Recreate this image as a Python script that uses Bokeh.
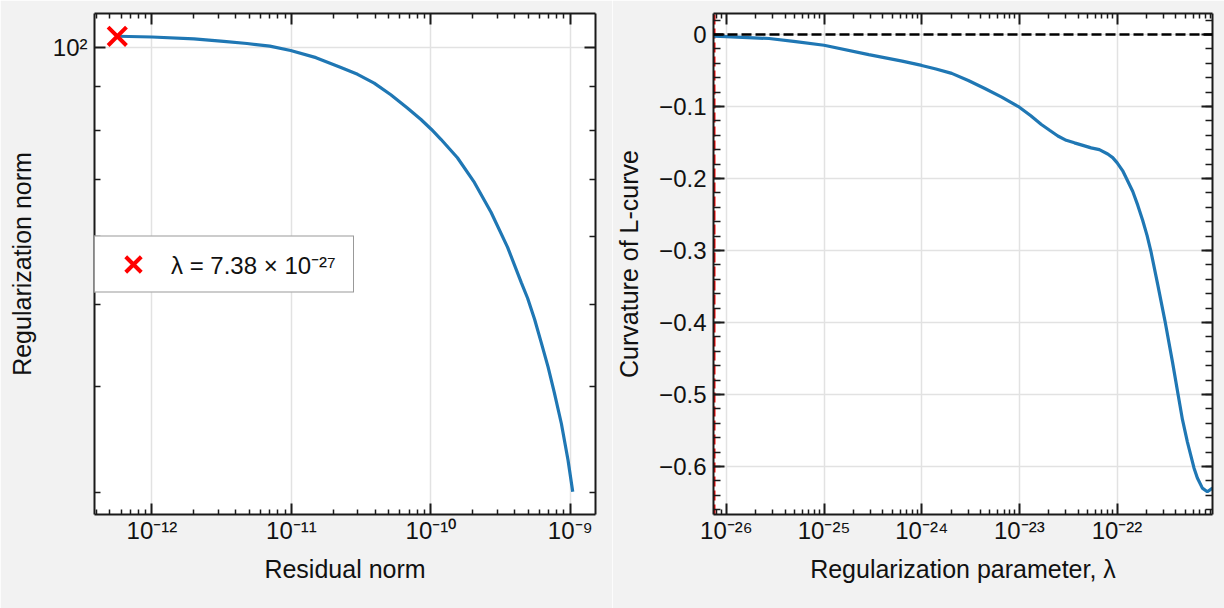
import math
from bokeh.plotting import figure
from bokeh.models import (FixedTicker, CustomJSTickFormatter, LogAxis, LinearAxis,
                          Range1d, Legend, LegendItem, Span)
from bokeh.layouts import row
from bokeh.embed import file_html
from bokeh.resources import INLINE

# ---------------- data ----------------
residual_norm = [5.64e-13, 1.0e-12, 2.0e-12, 3.27e-12, 4.8e-12, 7.0e-12, 9.87e-12,
                 1.5e-11, 2.24e-11, 2.98e-11, 3.92e-11, 5.16e-11, 6.78e-11, 8.49e-11,
                 1.01e-10, 1.18e-10, 1.55e-10, 2.05e-10, 2.70e-10, 3.55e-10, 4.45e-10,
                 4.94e-10, 5.54e-10, 6.20e-10, 6.92e-10, 7.66e-10, 8.62e-10, 9.62e-10,
                 1.04e-9]
regularization_norm = [103.2, 103.0, 102.5, 101.8, 101.2, 100.5, 99.3,
                       97.4, 94.9, 93.1, 90.9, 88.1, 85.0, 82.4,
                       80.2, 78.1, 74.3, 69.5, 64.1, 58.3, 53.0,
                       50.8, 48.0, 45.0, 42.2, 39.4, 36.2, 32.8,
                       30.1]

lam_opt = 7.38e-27
lam_opt_text = "λ = 7.38 × 10⁻²⁷"

lam = [7.38e-27, 1e-26, 2.74e-26, 5.13e-26, 1e-25, 2.87e-25, 6.31e-25, 1e-24,
       1.4e-24, 2.03e-24, 3.0e-24, 4.43e-24, 6.6e-24, 1e-23, 1.3e-23, 1.68e-23,
       2.04e-23, 2.48e-23, 3.02e-23, 3.66e-23, 4.47e-23, 5.43e-23, 6.59e-23,
       8.03e-23, 9.03e-23, 1e-22, 1.14e-22, 1.25e-22, 1.45e-22, 1.63e-22,
       1.83e-22, 2.03e-22, 2.23e-22, 2.60e-22, 3.10e-22, 3.70e-22, 4.22e-22,
       4.68e-22, 5.26e-22, 6.14e-22, 6.65e-22, 7.48e-22, 8.41e-22, 9.5e-22]
curvature = [-0.0025, -0.003, -0.0056, -0.010, -0.015, -0.028, -0.037, -0.043,
             -0.048, -0.054, -0.064, -0.075, -0.087, -0.101, -0.1125, -0.125,
             -0.133, -0.141, -0.147, -0.1505, -0.154, -0.1575, -0.160,
             -0.166, -0.171, -0.178, -0.189, -0.200, -0.218, -0.237,
             -0.258, -0.279, -0.302, -0.346, -0.398, -0.455, -0.500,
             -0.535, -0.566, -0.602, -0.616, -0.630, -0.635, -0.630]

x1_major = [1e-12, 1e-11, 1e-10, 1e-9]
y1_major = [100]
y1_minor = [30, 40, 50, 60, 70, 80, 90]
x2_major = [1e-26, 1e-25, 1e-24, 1e-23, 1e-22]
y2_major = [0.0, -0.1, -0.2, -0.3, -0.4, -0.5, -0.6]

x1_label = "Residual norm"
y1_label = "Regularization norm"
x2_label = "Regularization parameter, λ"
y2_label = "Curvature of L-curve"

# ---------------- style ----------------
FONT = "Liberation Sans"
FS = "24px"
FS_LABEL = "25px"
BG = "#f2f2f2"
BLUE = "#1f77b4"
INK = "#1a1a1a"
GRID = "#e2e2e2"


def log_minors(lo, hi):
    out = []
    e0 = math.floor(math.log10(lo)) - 1
    e1 = math.ceil(math.log10(hi)) + 1
    for e in range(e0, e1):
        for k in range(2, 10):
            v = k * 10.0 ** e
            if lo <= v <= hi:
                out.append(v)
    return out


def log_range(vals, frac=0.05):
    lo, hi = math.log10(min(vals)), math.log10(max(vals))
    m = (hi - lo) * frac
    return 10 ** (lo - m), 10 ** (hi + m)


SUP_JS = """
const sup = {"-": "\u207b", "0": "\u2070", "1": "\u00b9", "2": "\u00b2", "3": "\u00b3",
             "4": "\u2074", "5": "\u2075", "6": "\u2076", "7": "\u2077", "8": "\u2078", "9": "\u2079"};
const e = Math.round(Math.log10(tick));
let s = "";
for (const c of String(e)) { s += sup[c]; }
return "10" + s;
"""
MINUS_JS = """
if (Math.abs(tick) < 1e-9) { return "0"; }
const a = Math.abs(tick).toFixed(1);
return (tick < 0 ? "\u2212" : "") + a;
"""
BLANK_JS = "return '';"


def style_axis(ax, labels=True):
    ax.axis_line_width = 2
    ax.axis_line_color = INK
    ax.major_tick_in = 11
    ax.major_tick_out = 0
    ax.minor_tick_in = 5
    ax.minor_tick_out = 0
    ax.major_tick_line_width = 2
    ax.minor_tick_line_width = 1.5
    ax.major_tick_line_color = INK
    ax.minor_tick_line_color = INK
    ax.major_label_text_font = FONT
    ax.major_label_text_color = "#111111"
    ax.axis_label_text_font = FONT
    ax.axis_label_text_font_size = FS_LABEL
    ax.axis_label_text_font_style = "normal"
    ax.axis_label_text_color = "#111111"
    if labels:
        ax.major_label_text_font_size = FS
    else:
        ax.major_label_text_font_size = "0px"
        ax.formatter = CustomJSTickFormatter(code=BLANK_JS)


def make_fig(xr, yr, x_type, y_type, bl, br):
    return figure(width=612, height=608, x_axis_type=x_type, y_axis_type=y_type,
                  x_range=Range1d(*xr), y_range=Range1d(*yr),
                  output_backend="svg", toolbar_location=None,
                  min_border_left=bl, min_border_right=br, min_border_top=13,
                  min_border_bottom=94, background_fill_color="white",
                  border_fill_color=BG, outline_line_color=None)


# ---------------- left panel: L-curve ----------------
xr1 = log_range(residual_norm)
yr1 = log_range(regularization_norm)
p1 = make_fig(xr1, yr1, "log", "log", 94, 17)

xt1 = FixedTicker(ticks=x1_major, minor_ticks=log_minors(*xr1))
yt1 = FixedTicker(ticks=y1_major, minor_ticks=y1_minor)

p1.xaxis.ticker = xt1
p1.yaxis.ticker = yt1
p1.xaxis.formatter = CustomJSTickFormatter(code=SUP_JS)
p1.yaxis.formatter = CustomJSTickFormatter(code=SUP_JS)
p1.xaxis.axis_label = x1_label
p1.yaxis.axis_label = y1_label
style_axis(p1.xaxis[0])
style_axis(p1.yaxis[0])
p1.xaxis.minor_tick_in = 5
p1.yaxis.minor_tick_in = 6
p1.xaxis.major_label_standoff = 2
p1.yaxis.major_label_standoff = 7
p1.xaxis.axis_label_standoff = 8
p1.yaxis.axis_label_standoff = 14

top1 = LogAxis(ticker=xt1)
right1 = LogAxis(ticker=yt1)
style_axis(top1, labels=False)
style_axis(right1, labels=False)
right1.minor_tick_in = 6
p1.add_layout(top1, "above")
p1.add_layout(right1, "right")

p1.xgrid.ticker = xt1
p1.ygrid.ticker = yt1
for g in (p1.xgrid[0], p1.ygrid[0]):
    g.grid_line_color = GRID
    g.grid_line_width = 1.5

p1.line(residual_norm, regularization_norm, line_color=BLUE, line_width=3.2)
mark = p1.scatter([residual_norm[0]], [regularization_norm[0]], marker="x", size=26,
                  line_color="red", line_width=4)

legend = Legend(items=[LegendItem(label=lam_opt_text, renderers=[mark])],
                location="left", margin=0, padding=0, spacing=0,
                glyph_width=76, glyph_height=55, label_height=55, label_width=182,
                label_standoff=0, label_text_font=FONT, label_text_font_size=FS,
                label_text_color="#111111",
                border_line_color="#333333", border_line_width=1.5,
                background_fill_color="white", background_fill_alpha=1.0)
p1.add_layout(legend)

# ---------------- right panel: curvature ----------------
xr2 = (lam[0], lam[-1])
cmin = min(curvature)
cmax = max(curvature)
cm = (cmax - cmin) * 0.05
yr2 = (cmin - cm, cmax + cm)
p2 = make_fig(xr2, yr2, "log", "linear", 99, 12)

xt2 = FixedTicker(ticks=x2_major, minor_ticks=log_minors(*xr2))
y2_minor = [round(-0.66 + 0.02 * i, 2) for i in range(36)]
yt2 = FixedTicker(ticks=y2_major, minor_ticks=y2_minor)

p2.xaxis.ticker = xt2
p2.yaxis.ticker = yt2
p2.xaxis.formatter = CustomJSTickFormatter(code=SUP_JS)
p2.yaxis.formatter = CustomJSTickFormatter(code=MINUS_JS)
p2.xaxis.axis_label = x2_label
p2.yaxis.axis_label = y2_label
style_axis(p2.xaxis[0])
style_axis(p2.yaxis[0])
p2.xaxis.minor_tick_in = 5
p2.yaxis.minor_tick_in = 7
p2.xaxis.major_label_standoff = 2
p2.yaxis.major_label_standoff = 7
p2.xaxis.axis_label_standoff = 8
p2.yaxis.axis_label_standoff = 13

top2 = LogAxis(ticker=xt2)
right2 = LinearAxis(ticker=yt2)
style_axis(top2, labels=False)
style_axis(right2, labels=False)
right2.minor_tick_in = 7
p2.add_layout(top2, "above")
p2.add_layout(right2, "right")

p2.xgrid.ticker = xt2
p2.ygrid.ticker = yt2
for g in (p2.xgrid[0], p2.ygrid[0]):
    g.grid_line_color = GRID
    g.grid_line_width = 1.5

# optimal lambda marker line (clipped by the frame, as in the reference)
p2.segment(x0=[lam_opt], x1=[lam_opt], y0=[yr2[0]], y1=[yr2[1]],
           line_color="red", line_width=4, line_dash="10 4")
p2.line(lam, curvature, line_color=BLUE, line_width=3.2)
p2.add_layout(Span(location=0, dimension="width", line_color="black",
                   line_width=2.5, line_dash="10 4"))

layout = row(p1, p2)
open("out.html", "w").write(file_html(layout, INLINE))
